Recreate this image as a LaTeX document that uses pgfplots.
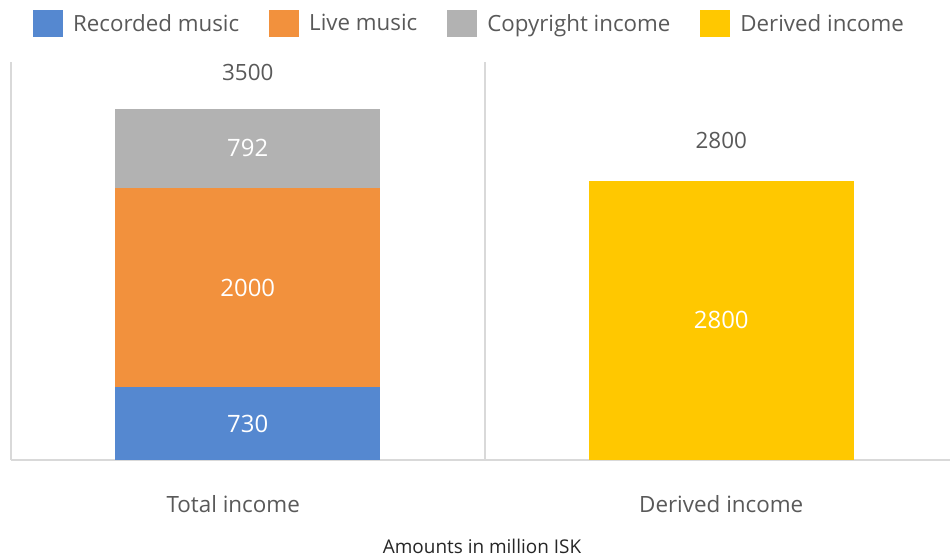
\documentclass[border=0pt]{standalone}
\usepackage{fontspec}
\setmainfont{Open Sans}
\usepackage{pgfplots}
\pgfplotsset{compat=1.18}
\definecolor{cblue}{HTML}{5588D0}
\definecolor{corange}{HTML}{F2913D}
\definecolor{cgray}{HTML}{B2B2B2}
\definecolor{cyellow}{HTML}{FFC800}
\definecolor{gridgray}{HTML}{D9D9D9}
\definecolor{txtgray}{HTML}{595959}
\begin{document}
\begin{tikzpicture}
\begin{axis}[
  name=ax,
  scale only axis,
  width=947bp, height=398bp,
  xmin=-0.5, xmax=1.5, ymin=0, ymax=3992,
  ybar stacked, bar width=0.56,
  axis x line*=bottom, axis y line=none,
  x axis line style={gridgray, line width=2bp},
  xtick={0,1}, xticklabels={{Total income\hspace*{29bp}}, Derived income},
  major tick length=0pt, minor tick length=0pt,
  minor xtick={-0.5,0.5,1.5},
  xminorgrids=true,
  minor x grid style={gridgray, line width=2bp},
  ytick=\empty,
  xticklabel style={anchor=base, yshift=-52bp, font=\fontsize{22.5}{26}\selectfont, text=txtgray},
  xlabel={Amounts in million ISK},
  xlabel style={at={(axis description cs:0.5,0)}, anchor=base, xshift=-2.5bp, yshift=-93bp, font=\fontsize{19}{23}\selectfont, text=black!85},
  legend columns=4,
  legend image code/.code={\fill[#1] (0bp,-13.5bp) rectangle (30bp,13.5bp);},
  legend style={at={(0.5,1)}, anchor=south, xshift=-16bp, yshift=25bp, draw=none, fill=none, inner sep=0pt,
    column sep=0bp, font=\fontsize{22.4}{26}\selectfont, text=txtgray,
    nodes={inner sep=0pt},
    /tikz/every odd column/.append style={column sep=10bp},
    /tikz/every even column/.append style={column sep=30bp}},
]
\addplot[fill=cblue, draw=none] coordinates {(0,730) (1,0)};
\addlegendentry{Recorded music}
\addplot[fill=corange, draw=none] coordinates {(0,2000) (1,0)};
\addlegendentry{Live music}
\addplot[fill=cgray, draw=none] coordinates {(0,792) (1,0)};
\addlegendentry{Copyright income}
\addplot[fill=cyellow, draw=none] coordinates {(0,0) (1,2800)};
\addlegendentry{Derived income}
\end{axis}
\begin{axis}[
  scale only axis,
  width=947bp, height=398bp,
  xmin=-0.5, xmax=1.5, ymin=0, ymax=3992,
  hide axis,
  nodes near coords,
  point meta=explicit symbolic,
]
\addplot[draw=none, nodes near coords, every node near coord/.style={anchor=center, text=white, font=\fontsize{24}{28}\selectfont}]
  coordinates {(0,365)[730] (0,1730)[2000] (0,3126)[792] (1,1400)[2800]};
\addplot[draw=none, nodes near coords, every node near coord/.style={anchor=center, text=txtgray, font=\fontsize{22.5}{26}\selectfont}]
  coordinates {(0,3882)[3500] (1,3200)[2800]};
\end{axis}
\pgfresetboundingbox
\path ([shift={(-11bp,-98bp)}]ax.south west) rectangle ([shift={(-8bp,62bp)}]ax.north east);
\end{tikzpicture}
\end{document}
